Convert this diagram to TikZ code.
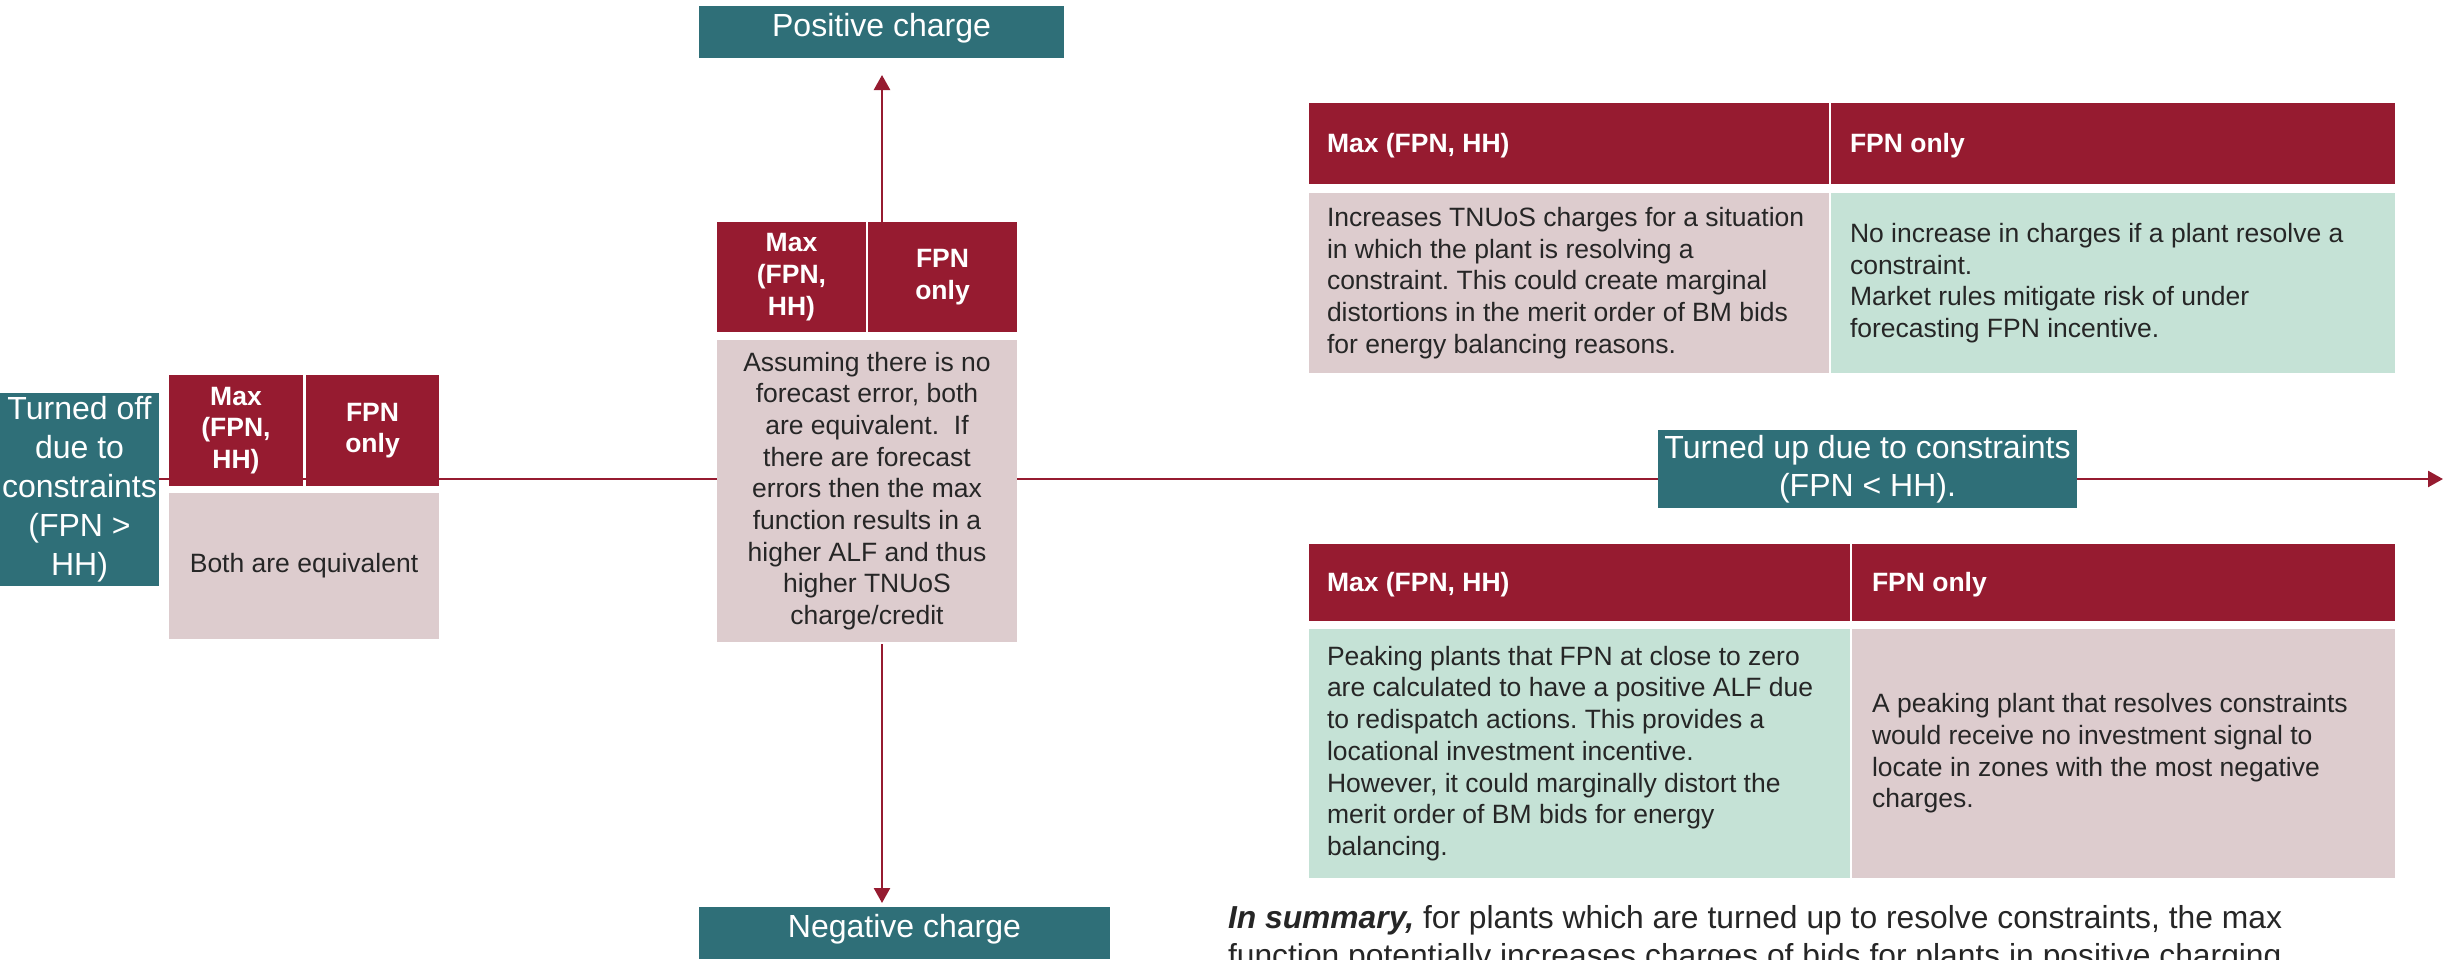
\documentclass[tikz,border=0pt]{standalone}
\usepackage{fontspec}
\setmainfont{Liberation Sans}
\usetikzlibrary{arrows.meta,calc}
\definecolor{tealbg}{RGB}{47,111,120}
\definecolor{hdrred}{RGB}{150,27,48}
\definecolor{cellpink}{RGB}{221,204,206}
\definecolor{cellgreen}{RGB}{197,226,214}
\definecolor{bodytext}{RGB}{38,38,38}
\pgfdeclarelayer{bg}
\pgfsetlayers{bg,main}
\begin{document}
\frenchspacing
\begin{tikzpicture}[x=1pt,y=-1pt,
  every node/.style={inner sep=0pt,outer sep=0pt,anchor=north west},
  tealbox/.style={fill=tealbg,text=white,align=center,font=\fontsize{32}{38}\selectfont},
  hdrbox/.style={fill=hdrred,text=white,align=center,font=\bfseries\fontsize{26.5}{31.7}\selectfont},
  hdrcell/.style={fill=hdrred},
  hdrlabel/.style={anchor=west,text=white,align=left,font=\bfseries\fontsize{26.5}{31.7}\selectfont},
  bodybox/.style={text=bodytext,font=\fontsize{26.5}{31.7}\selectfont},
  celllabel/.style={bodybox,anchor=west,align=left},
  pinkcell/.style={bodybox,fill=cellpink},
  greencell/.style={bodybox,fill=cellgreen},
  axisline/.style={draw=hdrred,line width=2.5pt},
  arr/.style={axisline,-{Triangle[length=15pt,width=16pt]}}
]
\useasboundingbox (0,0) rectangle (2445,959);
\clip (0,0) rectangle (2445,959);

% axis labels
\node[tealbox,minimum width=159,minimum height=193,font=\fontsize{32}{39}\selectfont] (toff) at (0,393)
  {Turned off\\due to\\constraints\\(FPN >\\HH)};
\node[tealbox,minimum width=365,minimum height=52,text height=30,text depth=22] (pos) at (699,6) {Positive charge};
\node[tealbox,minimum width=411,minimum height=52,text height=30,text depth=22] (neg) at (699,907) {Negative charge};
\node[tealbox,minimum width=419,minimum height=78] (tup) at (1658,430)
  {Turned up due to constraints\\(FPN < HH).};

% left comparison
\node[hdrbox,minimum width=134,minimum height=111] (lmax) at (169,375) {Max\\(FPN,\\HH)};
\node[hdrbox,minimum width=133,minimum height=111] (lfpn) at (306,375) {FPN\\only};
\node[pinkcell,minimum width=270,minimum height=146] (lbody) at (169,493) {Both are equivalent};

% centre comparison
\node[hdrbox,minimum width=149,minimum height=110] (cmax) at (717,222) {Max\\(FPN,\\HH)};
\node[hdrbox,minimum width=149,minimum height=110] (cfpn) at (868,222) {FPN\\only};
\node[pinkcell,align=center,minimum width=300,minimum height=302] (cbody) at (717,340)
  {Assuming there is no\\forecast error, both\\are equivalent.\ \ If\\there are forecast\\errors then the max\\function results in a\\higher ALF and thus\\higher TNUoS\\charge/credit};

% upper table
\node[hdrcell,minimum width=520,minimum height=81] (uh1) at (1309,103) {};
\node[hdrcell,minimum width=564,minimum height=81] (uh2) at (1831,103) {};
\node[pinkcell,minimum width=520,minimum height=180] (ub1) at (1309,193) {};
\node[greencell,minimum width=564,minimum height=180] (ub2) at (1831,193) {};
\node[hdrlabel] (uh1t) at ($(uh1.west)+(18,2)$) {Max (FPN, HH)};
\node[hdrlabel] (uh2t) at ($(uh2.west)+(19,2)$) {FPN only};
\node[celllabel] (ub1t) at ($(ub1.west)+(18,0)$)
  {Increases TNUoS charges for a situation\\in which the plant is resolving a\\constraint. This could create marginal\\distortions in the merit order of BM bids\\for energy balancing reasons.};
\node[celllabel] (ub2t) at ($(ub2.west)+(19,0)$)
  {No increase in charges if a plant resolve a\\constraint.\\Market rules mitigate risk of under\\forecasting FPN incentive.};

% lower table
\node[hdrcell,minimum width=541,minimum height=77] (lh1) at (1309,544) {};
\node[hdrcell,minimum width=543,minimum height=77] (lh2) at (1852,544) {};
\node[greencell,minimum width=541,minimum height=249] (lb1) at (1309,629) {};
\node[pinkcell,minimum width=543,minimum height=249] (lb2) at (1852,629) {};
\node[hdrlabel] (lh1t) at ($(lh1.west)+(18,2)$) {Max (FPN, HH)};
\node[hdrlabel] (lh2t) at ($(lh2.west)+(20,2)$) {FPN only};
\node[celllabel] (lb1t) at ($(lb1.west)+(18,0)$)
  {Peaking plants that FPN at close to zero\\are calculated to have a positive ALF due\\to redispatch actions. This provides a\\locational investment incentive.\\However, it could marginally distort the\\merit order of BM bids for energy\\balancing.};
\node[celllabel] (lb2t) at ($(lb2.west)+(20,0)$)
  {A peaking plant that resolves constraints\\would receive no investment signal to\\locate in zones with the most negative\\charges.};

% summary
\node[anchor=base west,align=left,text=bodytext,font=\fontsize{31.8}{38}\selectfont] (summ) at (1228,966)
  {\textbf{\textit{In summary,}} for plants which are turned up to resolve constraints, the max\\function potentially increases charges of bids for plants in positive charging};

% axes
\coordinate (o) at (882,479);
\coordinate (hend) at (2443,479);
\begin{pgfonlayer}{bg}
  \draw[arr] (toff.east |- o) -- (hend);
\end{pgfonlayer}
\draw[arr,shorten <=-3pt,shorten >=17pt] (o |- cmax.north) -- (o |- pos.south);
\draw[arr,shorten <=2pt,shorten >=4pt] (o |- cbody.south) -- (o |- neg.north);
\end{tikzpicture}
\end{document}
